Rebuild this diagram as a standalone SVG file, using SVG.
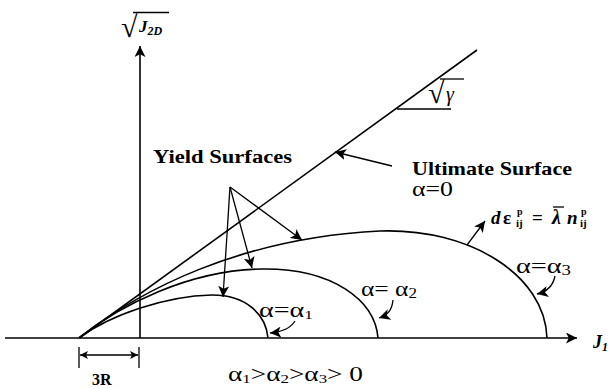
<svg xmlns="http://www.w3.org/2000/svg" width="611" height="388" viewBox="0 0 611 388">
<style>
.ln{fill:none;stroke:#000;stroke-width:1.6}
.thin{fill:none;stroke:#000;stroke-width:1.3}
.t{font-family:"Liberation Serif","Times New Roman",serif;fill:#000}
.b{font-weight:bold}
.i{font-style:italic}
</style>
<defs>
<marker id="ah" viewBox="0 0 10 10" refX="10" refY="5" markerWidth="11" markerHeight="11" markerUnits="userSpaceOnUse" orient="auto">
<path d="M0,0 L10,5 L0,10 L2.5,5 Z" fill="#000"/>
</marker>
<marker id="ahs" viewBox="0 0 10 10" refX="10" refY="5" markerWidth="8" markerHeight="8" markerUnits="userSpaceOnUse" orient="auto-start-reverse">
<path d="M0,0 L10,5 L0,10 L2.5,5 Z" fill="#000"/>
</marker>
</defs>

<g id="axes">
<line class="ln" x1="5" y1="338" x2="577" y2="338" marker-end="url(#ah)"/>
<line class="ln" x1="140" y1="338" x2="140" y2="46" marker-end="url(#ah)"/>
</g>

<g id="axis-labels">
<text class="t b" x="121" y="37" font-size="30">√</text>
<line class="thin" x1="133" y1="12.5" x2="169" y2="12.5"/>
<text class="t b i" x="139" y="32" font-size="17">J<tspan font-size="12" dy="3">2D</tspan></text>
<text class="t b i" x="593" y="348" font-size="18">J<tspan font-size="12" dy="3">1</tspan></text>
</g>

<g id="ultimate-surface">
<line class="ln" x1="79" y1="338" x2="477" y2="50"/>
<line class="thin" x1="397" y1="109" x2="451" y2="109"/>
<text class="t b" x="428" y="103" font-size="30">√</text>
<line class="thin" x1="440" y1="79" x2="464" y2="79"/>
<text class="t i" x="446" y="101" font-size="20">γ</text>
</g>

<g id="yield-surface-1">
<path class="ln" d="M79,338 C110,315 165,296 212,295 C247,295 266,315 268,338"/>
</g>
<g id="yield-surface-2">
<path class="ln" d="M79,338 C120,305 190,270 262,269 C332,268 375,300 378,338"/>
</g>
<g id="yield-surface-3">
<path class="ln" d="M79,338 C140,290 240,238 380,231 C470,228 545,275 547,338"/>
</g>

<g id="connectors">
<line class="thin" x1="230" y1="187" x2="302" y2="240" marker-end="url(#ah)"/>
<line class="thin" x1="230" y1="187" x2="252" y2="268" marker-end="url(#ah)"/>
<line class="thin" x1="230" y1="187" x2="223" y2="297" marker-end="url(#ah)"/>
<line class="thin" x1="392" y1="166" x2="335" y2="152" marker-end="url(#ah)"/>
<line class="thin" x1="467" y1="245" x2="485" y2="221" marker-end="url(#ah)"/>
<path class="thin" d="M555,276 C553,286 546,292 537,294" marker-end="url(#ah)"/>
<path class="thin" d="M393,300 C392,310 388,315 379,318" marker-end="url(#ah)"/>
<path class="thin" d="M295,321 C290,329 282,332 270,333" marker-end="url(#ah)"/>
<line class="thin" x1="79" y1="347" x2="79" y2="368"/>
<line class="thin" x1="139" y1="347" x2="139" y2="368"/>
<line class="thin" x1="80" y1="355" x2="138" y2="355" marker-start="url(#ahs)" marker-end="url(#ahs)"/>
</g>

<g id="labels">
<text class="t b" x="153" y="163" font-size="19" textLength="139" lengthAdjust="spacingAndGlyphs">Yield Surfaces</text>
<text class="t b" x="412" y="175" font-size="19" textLength="160" lengthAdjust="spacingAndGlyphs">Ultimate Surface</text>
<text class="t" x="412" y="196" font-size="21" textLength="41" lengthAdjust="spacingAndGlyphs">α=0</text>
<g id="flow-rule">
<text class="t i b" x="491" y="224" font-size="19">d</text>
<text class="t b" x="503" y="224" font-size="19">ε</text>
<text class="t b" x="517" y="215" font-size="10">p</text>
<text class="t b" x="516" y="227" font-size="11">ij</text>
<text class="t b" x="532" y="224" font-size="19">=</text>
<text class="t b i" x="552" y="224" font-size="20">λ</text>
<line class="thin" x1="553" y1="207" x2="564" y2="207"/>
<text class="t b i" x="567" y="224" font-size="19">n</text>
<text class="t b" x="581" y="215" font-size="10">p</text>
<text class="t b" x="580" y="227" font-size="11">ij</text>
</g>
<text class="t" x="516" y="273" font-size="21" textLength="55" lengthAdjust="spacingAndGlyphs">α=α<tspan font-size="14" dy="2">3</tspan></text>
<text class="t" x="361" y="296" font-size="21" textLength="56" lengthAdjust="spacingAndGlyphs">α= α<tspan font-size="14" dy="2">2</tspan></text>
<text class="t" x="259" y="317" font-size="21" textLength="54" lengthAdjust="spacingAndGlyphs">α=α<tspan font-size="13" dy="2">1</tspan></text>
<text class="t" x="228" y="381" font-size="21" textLength="135" lengthAdjust="spacingAndGlyphs">α<tspan font-size="13" dy="2">1</tspan><tspan dy="-2">&gt;α</tspan><tspan font-size="13" dy="2">2</tspan><tspan dy="-2">&gt;α</tspan><tspan font-size="13" dy="2">3</tspan><tspan dy="-2">&gt; 0</tspan></text>
<text class="t b" x="92" y="385" font-size="16">3R</text>
</g>
</svg>
